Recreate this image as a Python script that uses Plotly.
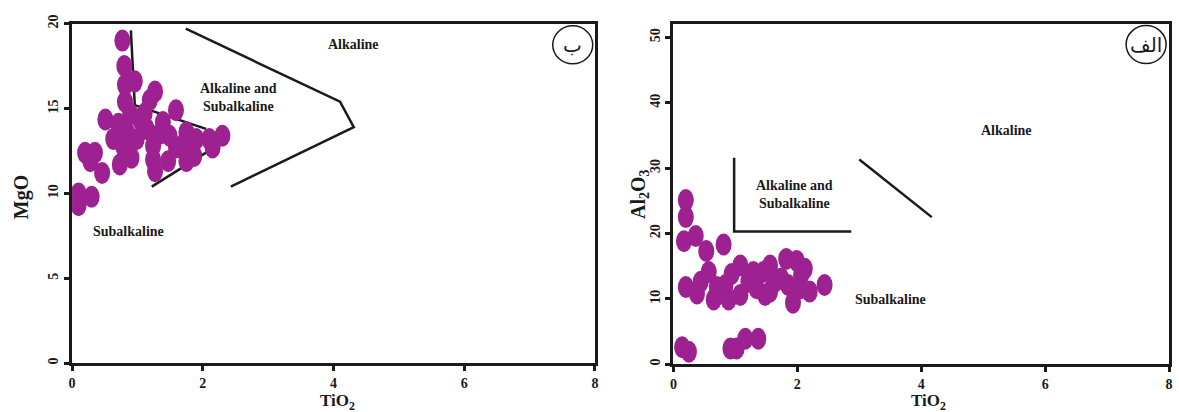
import plotly.graph_objects as go

# ---------------- data ----------------
mgo_tio2 = [0.77, 0.80, 0.96, 0.81, 0.81, 1.27, 1.19, 1.59, 0.51, 0.71, 0.63, 0.84, 1.04, 1.14,
            1.39, 1.49, 1.75, 1.90, 2.10, 2.30, 2.15, 1.70, 1.24, 0.99, 0.78, 0.20, 0.35, 0.28,
            0.46, 0.73, 0.91, 1.24, 1.27, 1.47, 1.75, 1.87, 0.10, 0.10, 0.30, 1.59, 1.34, 1.11, 0.89]
mgo_vals = [19.0, 17.5, 16.6, 16.4, 15.4, 16.0, 15.5, 14.9, 14.35, 14.1, 13.2, 13.6, 14.35, 13.8,
            14.2, 13.4, 13.6, 13.2, 13.2, 13.4, 12.7, 12.9, 12.8, 13.2, 12.8, 12.4, 12.4, 11.9,
            11.2, 11.7, 12.1, 12.0, 11.3, 11.9, 11.9, 12.2, 10.0, 9.3, 9.8, 12.7, 13.5, 14.7, 14.7]

al_tio2 = [0.20, 0.20, 0.17, 0.36, 0.53, 0.81, 0.20, 0.38, 0.44, 0.57, 0.65, 0.89, 0.84, 0.94,
           1.08, 1.08, 1.21, 1.34, 1.29, 1.48, 1.45, 1.56, 1.56, 1.64, 1.82, 1.85, 1.99, 2.06,
           1.93, 2.20, 2.06, 2.44, 2.12, 0.70, 1.34, 1.74, 0.14, 0.25, 0.92, 1.02, 1.16, 1.37]
al_vals = [25.1, 22.5, 18.8, 19.6, 17.3, 18.3, 11.8, 10.8, 12.6, 14.1, 9.9, 9.9, 12.1, 13.8,
           15.1, 10.6, 12.6, 11.6, 14.1, 10.6, 14.1, 15.1, 11.1, 12.6, 16.1, 12.1, 15.8, 13.6,
           9.4, 11.1, 11.6, 12.1, 14.6, 11.8, 13.6, 13.1, 2.6, 1.9, 2.4, 2.4, 3.9, 3.9]

# boundary lines (MgO diagram)
mgo_inner_a_x = [0.90, 0.96, 2.05]
mgo_inner_a_y = [19.6, 15.2, 13.8]
mgo_inner_b_x = [2.05, 1.22]
mgo_inner_b_y = [12.4, 10.4]
mgo_outer_x = [1.74, 4.10, 4.31, 2.43]
mgo_outer_y = [19.7, 15.4, 13.9, 10.4]

# boundary lines (Al2O3 diagram)
al_corner_x = [0.98, 0.98, 2.87]
al_corner_y = [31.6, 20.3, 20.3]
al_diag_x = [3.00, 4.17]
al_diag_y = [31.3, 22.5]

x_ticks = [0, 2, 4, 6, 8]
mgo_ticks = [0, 5, 10, 15, 20]
al_ticks = [0, 10, 20, 30, 40, 50]

# ---------------- figure ----------------
PURPLE = "#9e2191"
INK = "#1a1a1a"
SERIF = "Liberation Serif"

fig = go.Figure()

def add_line(xs, ys, xa, ya):
    fig.add_trace(go.Scatter(x=xs, y=ys, mode="lines", xaxis=xa, yaxis=ya,
                             line=dict(color=INK, width=2.5), showlegend=False,
                             hoverinfo="skip"))

add_line(mgo_inner_a_x, mgo_inner_a_y, "x", "y")
add_line(mgo_inner_b_x, mgo_inner_b_y, "x", "y")
add_line(mgo_outer_x, mgo_outer_y, "x", "y")
add_line(al_corner_x, al_corner_y, "x2", "y2")
add_line(al_diag_x, al_diag_y, "x2", "y2")

# data points: invisible hover traces + elliptical markers anchored at the data values
for xs, ys, xa, ya in [(mgo_tio2, mgo_vals, "x", "y"), (al_tio2, al_vals, "x2", "y2")]:
    fig.add_trace(go.Scatter(x=xs, y=ys, mode="markers", xaxis=xa, yaxis=ya,
                             marker=dict(color=PURPLE, size=14, opacity=0),
                             showlegend=False))
    for xv, yv in zip(xs, ys):
        fig.add_shape(type="circle", xref=xa, yref=ya, xsizemode="pixel", ysizemode="pixel",
                      xanchor=xv, yanchor=yv, x0=-8, x1=8, y0=-11, y1=11,
                      fillcolor=PURPLE, line=dict(width=0), layer="above")

tickfont = dict(family=SERIF, size=14, color=INK, weight="bold")
axis_common = dict(showline=True, mirror=True, linewidth=3, linecolor=INK, ticks="outside",
                   ticklen=5, tickwidth=2.5, tickcolor=INK, showgrid=False,
                   zeroline=False, tickfont=tickfont)

fig.update_layout(
    width=1179, height=412,
    margin=dict(l=0, r=0, t=0, b=0),
    paper_bgcolor="white", plot_bgcolor="white",
    xaxis=dict(domain=[68.5/1179, 595/1179], range=[0, 8], tickvals=x_ticks,
               anchor="y", **axis_common),
    yaxis=dict(domain=[(412-363)/412, (412-15)/412], range=[0, 20], tickvals=mgo_ticks,
               tickangle=-90, anchor="x", **axis_common),
    xaxis2=dict(domain=[674/1179, 1173/1179], range=[0, 8], tickvals=x_ticks,
                anchor="y2", **axis_common),
    yaxis2=dict(domain=[(412-364)/412, (412-15)/412], range=[0, 52.1], tickvals=al_ticks,
                tickangle=-90, anchor="x2", **axis_common),
)

# circled panel labels
for xa, ya, cx, cy, txt in [("x", "y", 7.66, 18.75, "ب"), ("x2", "y2", 7.63, 48.9, "الف")]:
    fig.add_shape(type="circle", xref=xa, yref=ya, xsizemode="pixel", ysizemode="pixel",
                  xanchor=cx, yanchor=cy, x0=-20, x1=20, y0=-19, y1=19,
                  line=dict(color=INK, width=1.5))
    fig.add_annotation(x=cx, y=cy, xref=xa, yref=ya, text=txt, showarrow=False,
                       xanchor="center", yanchor="middle",
                       font=dict(family="DejaVu Sans", size=20, color=INK))

lab = dict(family=SERIF, size=14, color=INK, weight="bold")
labels = [
    ("x", "y", 4.30, 18.75, "Alkaline"),
    ("x", "y", 2.55, 15.65, "Alkaline and<br>Subalkaline"),
    ("x", "y", 0.86, 7.74, "Subalkaline"),
    ("x2", "y2", 5.37, 35.8, "Alkaline"),
    ("x2", "y2", 1.95, 25.9, "Alkaline and<br>Subalkaline"),
    ("x2", "y2", 3.51, 9.9, "Subalkaline"),
]
for xa, ya, x, y, t in labels:
    fig.add_annotation(x=x, y=y, xref=xa, yref=ya, text=t, showarrow=False, font=lab,
                       align="center", xanchor="center", yanchor="middle")

title_font = dict(family=SERIF, size=20, color=INK, weight="bold")
titles = [
    (17, 193, "MgO", -90, 20),
    (640, 190, "Al<sub>2</sub>O<sub>3</sub>", -90, 20),
    (336, 403, "TiO<sub>2</sub>", 0, 17),
    (931, 403, "TiO<sub>2</sub>", 0, 17),
]
for px, py, t, ang, fs in titles:
    fig.add_annotation(x=px/1179, y=(412-py)/412, xref="paper", yref="paper", text=t,
                       textangle=ang, showarrow=False, xanchor="center", yanchor="middle",
                       font=dict(title_font, size=fs))

fig.write_html("out.html")
